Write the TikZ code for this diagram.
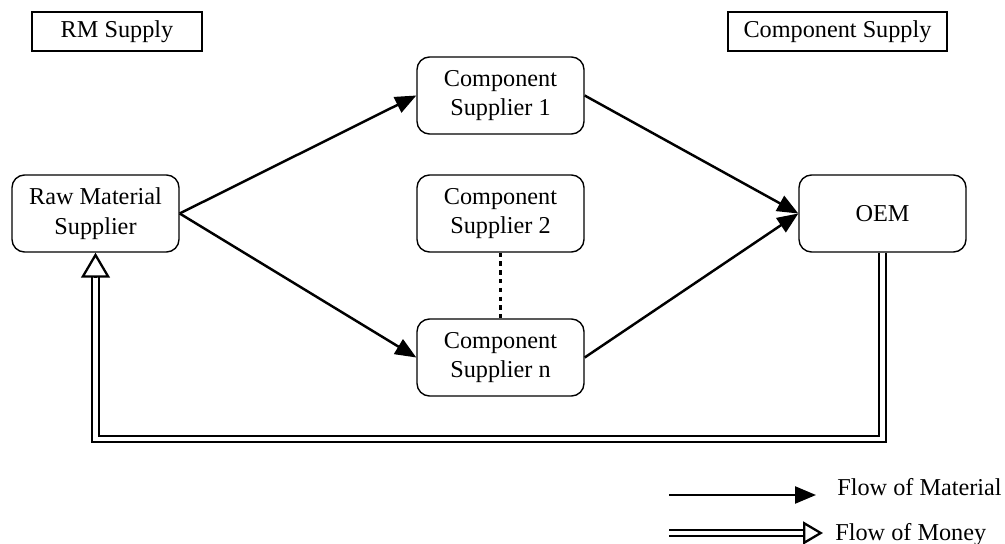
\documentclass[tikz,border=0pt]{standalone}
\usepackage{fontspec}
\setmainfont{Liberation Serif}
\usetikzlibrary{arrows.meta}
\tikzset{>=stealth}

\begin{document}
\begin{tikzpicture}[x=0.02cm, y=-0.02cm,
	party/.style={draw, rounded corners=0.25cm, minimum width=3.34cm, minimum height=1.54cm, align=center, line width=0.8pt, font=\fontsize{13.8}{17}\selectfont},
	tag/.style={draw, line width=0.8pt, minimum height=0.78cm, font=\fontsize{13.8}{17}\selectfont},
	legendtext/.style={anchor=base west, inner sep=0pt, font=\fontsize{13.8}{17}\selectfont},
	material/.style={line width=1.4pt, -{Triangle[length=0.42cm, width=0.34cm]}},
	money/.style={double, double distance=2.4pt, line width=1.1pt},
	moneytip/.style={line width=1.3pt, -{Triangle[open, length=#1, width=1.15*#1]}}]
	\useasboundingbox (0,0) rectangle (1005,544);
	\node[tag, minimum width=3.4cm] (rm) at (117,31.5) {RM Supply};
	\node[tag, minimum width=4.38cm] (cs) at (837.5,31.5) {Component Supply};
	\node[party] (raw) at (95.5,213.5) {Raw Material\\Supplier};
	\node[party] (sup1) at (500.5,95.5) {Component\\Supplier 1};
	\node[party] (sup2) at (500.5,213.5) {Component\\Supplier 2};
	\node[party] (supn) at (500.5,357.5) {Component\\Supplier n};
	\node[party] (oem) at (882.5,213.5) {OEM};
	\draw[material] (raw.east) -- (sup1.west);
	\draw[material] (raw.east) -- (supn.west);
	\draw[material] (sup1.east) -- (oem.west);
	\draw[material] (supn.east) -- (oem.west);
	\draw[line width=1.4pt, dash pattern=on 2.5pt off 2.5pt] (sup2.south) -- (supn.north);
	% money back to the raw material supplier
	\coordinate (bottom) at (500,439);
	\coordinate (base) at (95.5,277);
	\draw[money] (oem.south) |- (bottom) -| (base);
	\draw[moneytip=0.5cm] (base) -- (raw.south);
	% legend
	\coordinate (m0) at (669,495);
	\coordinate (m1) at (816,495);
	\draw[material] (m0) -- (m1);
	\node[legendtext] (mlabel) at (837,495) {Flow of Material};
	\coordinate (p0) at (669,533);
	\coordinate (p1) at (803,533);
	\coordinate (p2) at (823,533);
	\draw[money] (p0) -- (p1);
	\draw[moneytip=0.4cm] (p1) -- (p2);
	\node[legendtext] (plabel) at (835,540) {Flow of Money};
\end{tikzpicture}
\end{document}
